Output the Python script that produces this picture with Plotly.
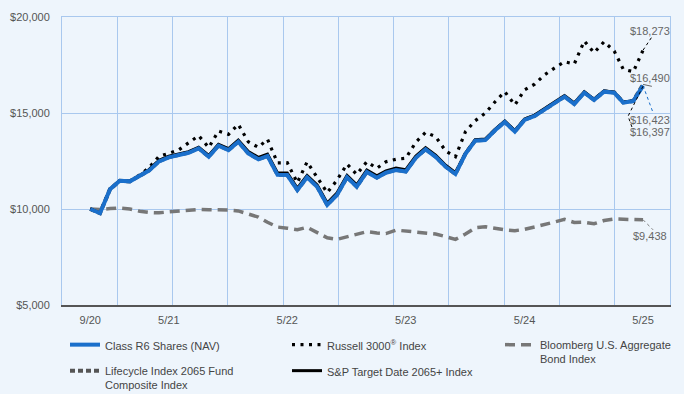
import plotly.graph_objects as go
import pandas as pd

months = [d.strftime("%Y-%m-%d") for d in pd.date_range("2020-09-01", "2025-05-01", freq="MS")]
tick_dates = ["2020-09-01", "2021-05-01", "2022-05-01", "2023-05-01", "2024-05-01", "2025-05-01"]
tick_labels = ["9/20", "5/21", "5/22", "5/23", "5/24", "5/25"]
y_ticks = [5000, 10000, 15000, 20000]

class_r6 = [10000, 9780, 11030, 11470, 11440, 11720, 12000, 12480, 12690, 12810,
            12930, 13160, 12720, 13300, 13070, 13500, 12900, 12590, 12760, 11780,
            11770, 10990, 11650, 11160, 10210, 10730, 11650, 11160, 11930, 11630,
            11890, 12030, 11950, 12670, 13110, 12720, 12200, 11820, 12870, 13560,
            13590, 14110, 14530, 14030, 14640, 14840, 15160, 15500, 15850, 15470,
            16060, 15680, 16110, 16060, 15540, 15620, 16423]
russell = [10000, 9800, 11050, 11470, 11460, 11780, 12150, 12750, 12900, 13080,
           13450, 13820, 13200, 14060, 13890, 14410, 13500, 13210, 13630, 12400,
           12410, 11370, 12450, 11650, 10850, 11500, 12340, 11800, 12460, 12120,
           12460, 12590, 12640, 13480, 13990, 13770, 13020, 12720, 14030, 14600,
           14990, 15600, 16110, 15420, 16200, 16500, 16980, 17340, 17670, 17550,
           18750, 18140, 18710, 18230, 17280, 17150, 18273]
bloomberg = [10000, 9980, 10020, 10050, 10000, 9880, 9820, 9800, 9850, 9900,
             9960, 9980, 9960, 9960, 9950, 9900, 9720, 9580, 9310, 9060,
             9000, 8920, 9050, 8800, 8500, 8420, 8560, 8700, 8820, 8750,
             8720, 8900, 8850, 8800, 8780, 8700, 8560, 8420, 8700, 9020,
             9080, 8980, 8920, 8870, 8940, 9060, 9200, 9350, 9460, 9300,
             9310, 9230, 9400, 9480, 9470, 9460, 9438]
lifecycle = [10000, 9785, 11030, 11470, 11440, 11725, 12010, 12490, 12700, 12820,
             12940, 13170, 12730, 13310, 13080, 13510, 12910, 12600, 12770, 11790,
             11780, 11000, 11660, 11170, 10220, 10740, 11660, 11170, 11940, 11640,
             11900, 12040, 11960, 12680, 13120, 12730, 12210, 11830, 12880, 13570,
             13600, 14120, 14540, 14040, 14650, 14850, 15170, 15510, 15860, 15480,
             16070, 15690, 16120, 16070, 15550, 15630, 16490]
sp_target = [10000, 9790, 11040, 11480, 11450, 11740, 12050, 12540, 12750, 12870,
             12990, 13220, 12790, 13370, 13140, 13590, 12990, 12690, 12860, 11880,
             11870, 11090, 11750, 11260, 10310, 10830, 11750, 11260, 12030, 11730,
             11990, 12130, 12050, 12760, 13190, 12800, 12280, 11890, 12920, 13610,
             13640, 14160, 14580, 14080, 14690, 14890, 15210, 15550, 15910, 15520,
             16100, 15720, 16150, 16090, 15570, 15640, 16397]

BG = "#eef5fc"
GRID = "#a9c8ee"
FONT = "Liberation Sans, Arial, sans-serif"

fig = go.Figure()

fig.add_trace(go.Scatter(x=months, y=lifecycle, mode="lines", name="Lifecycle Index 2065 Fund<br>Composite Index",
                         line=dict(color="#555555", width=4, dash="5px,3px"),
                         legend="legend", legendrank=2, legendgroup="g4", hoverinfo="skip"))
fig.add_trace(go.Scatter(x=months, y=bloomberg, mode="lines", name="Bloomberg U.S. Aggregate<br>Bond Index",
                         line=dict(color="#777777", width=3.5, dash="10px,6px"),
                         legend="legend3", legendrank=1, legendgroup="g3", hoverinfo="skip"))
fig.add_trace(go.Scatter(x=months, y=russell, mode="lines", name="Russell 3000<sup>®</sup> Index",
                         line=dict(color="#000000", width=3.2, dash="3px,5.5px"),
                         legend="legend2", legendrank=1, legendgroup="g2", hoverinfo="skip"))
fig.add_trace(go.Scatter(x=months, y=sp_target, mode="lines", name="S&P Target Date 2065+ Index",
                         line=dict(color="#000000", width=3),
                         legend="legend2", legendrank=2, legendgroup="g5", hoverinfo="skip"))
fig.add_trace(go.Scatter(x=months, y=class_r6, mode="lines", name="Class R6 Shares (NAV)",
                         line=dict(color="#1a6fcb", width=4),
                         legend="legend", legendrank=1, legendgroup="g1", hoverinfo="skip"))
# helper trace for the uniform vertical grid axis (draws nothing)
fig.add_trace(go.Scatter(x=[0, 11], y=[5000, 5000], xaxis="x2", mode="none",
                         showlegend=False, hoverinfo="skip"))

# end labels with leader lines
last_x = months[-1]
labels = [
    (russell[-1], 7, 19, "#000000", "dot", "M0,0 L10,15"),
    (lifecycle[-1], 7, 6, "#666666", "dash", "M0,0 L9,-2 L15,2"),
    (class_r6[-1], 7, -34, "#1a6fcb", "dot", "M0,0 L10,-27"),
    (sp_target[-1], 7, -46, "#000000", "dot", "M0,0 L-15,-30 L-10,-44"),
    (bloomberg[-1], 7, -16, "#777777", "dot", "M0,0 L10,-10"),
]
for val, dx, dy, col, dash, path in labels:
    fig.add_annotation(x=last_x, y=val, xref="x", yref="y", text=f"${val:,.0f}",
                       showarrow=False, xshift=dx, yshift=dy,
                       font=dict(family=FONT, size=11, color="#666666"))
    fig.add_shape(type="path", xref="x", yref="y", xsizemode="pixel", ysizemode="pixel",
                  xanchor=last_x, yanchor=val, path=path,
                  line=dict(color=col, width=1, dash=dash))

legend_common = dict(bgcolor="rgba(0,0,0,0)", borderwidth=0, orientation="v",
                     font=dict(family=FONT, size=11, color="#444444"),
                     xref="paper", yref="paper", xanchor="left", yanchor="top",
                     valign="top", tracegroupgap=7, traceorder="grouped")

def px_x(p):
    return (p - 62) / 608

def px_y(p):
    return (305 - p) / 288

fig.update_layout(
    width=684, height=394,
    margin=dict(l=62, r=14, t=17, b=89, autoexpand=False),
    paper_bgcolor=BG, plot_bgcolor=BG,
    font=dict(family=FONT, size=11, color="#555555"),
    showlegend=True,
    legend=dict(x=px_x(65), y=px_y(331), **legend_common),
    legend2=dict(x=px_x(287), y=px_y(331), **legend_common),
    legend3=dict(x=px_x(500), y=px_y(331), **legend_common),
    xaxis=dict(type="date", range=["2020-06-06", "2025-07-23"],
               tickvals=tick_dates, ticktext=tick_labels,
               showgrid=False, zeroline=False,
               showline=True, linecolor="#555555", linewidth=1.5,
               ticks="", ticklabelstandoff=4,
               tickfont=dict(family=FONT, size=11, color="#555555")),
    xaxis2=dict(type="linear", overlaying="x", range=[0, 11], dtick=1, tick0=0,
                side="top", showline=True, linecolor=GRID, linewidth=1,
                showgrid=True, gridcolor=GRID, gridwidth=1,
                showticklabels=False, ticks="", zeroline=False),
    yaxis=dict(range=[5000, 20000], tickvals=y_ticks,
               ticktext=[f"${v:,}" for v in y_ticks],
               showgrid=True, gridcolor=GRID, gridwidth=1, zeroline=False,
               showline=True, linecolor=GRID, linewidth=1, mirror=True,
               ticks="", ticklabelstandoff=9,
               tickfont=dict(family=FONT, size=11, color="#555555")),
)

fig.write_html("out.html", config={"displayModeBar": False},
               post_script="document.body.style.margin='0';")
